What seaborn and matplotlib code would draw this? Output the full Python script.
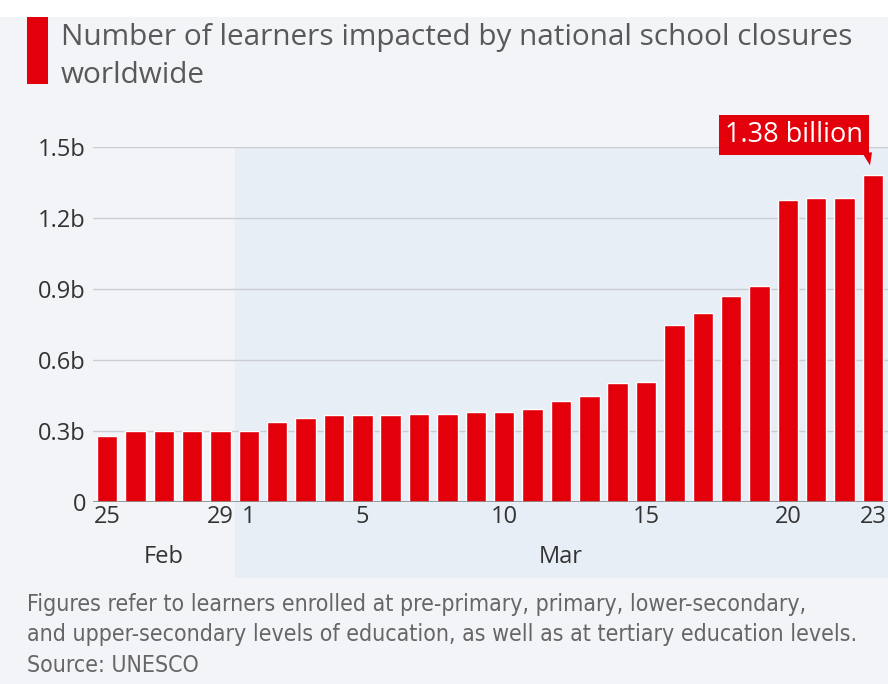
import matplotlib
matplotlib.use("Agg")
import matplotlib.pyplot as plt
from matplotlib import font_manager
from matplotlib.patches import Rectangle, Polygon
import seaborn as sns
import pandas as pd

# ---- data ----
days = [25, 26, 27, 28, 29] + list(range(1, 24))
months = ["Feb"] * 5 + ["Mar"] * 23
learners_b = [0.279, 0.300, 0.300, 0.300, 0.300,
              0.300, 0.338, 0.355, 0.366, 0.366, 0.366, 0.373, 0.373, 0.380,
              0.380, 0.394, 0.425, 0.447, 0.503, 0.507, 0.748, 0.800, 0.872,
              0.911, 1.277, 1.284, 1.284, 1.380]
tick_days = {"Feb": [25, 29], "Mar": [1, 5, 10, 15, 20, 23]}
y_ticks = [0, 0.3, 0.6, 0.9, 1.2, 1.5]
y_tick_labels = ["0", "0.3b", "0.6b", "0.9b", "1.2b", "1.5b"]
title_lines = ["Number of learners impacted by national school closures", "worldwide"]
footnote_lines = ["Figures refer to learners enrolled at pre-primary, primary, lower-secondary,",
                  "and upper-secondary levels of education, as well as at tertiary education levels."]
source = "Source: UNESCO"
callout = "1.38 billion"

df = pd.DataFrame({"idx": range(len(days)), "day": days, "month": months, "value": learners_b})

RED = "#e3000b"
BG = "#f3f4f8"
SHADE = "#e8eef6"

sns.set_theme(style="white")
MAIN = ["Open Sans", "DejaVu Sans"]
plt.rcParams["font.family"] = MAIN

# look for a condensed face for the footnote
cond_fp = None
cond_size = 12.3
prefs = [("Open Sans Condensed", 19.0), ("Liberation Sans Narrow", 17.8)]
for name, sz in prefs:
    for f in font_manager.fontManager.ttflist:
        if f.name == name and f.style == "normal" and f.weight in (400, "normal", "regular"):
            cond_fp = font_manager.FontProperties(fname=f.fname)
            cond_size = sz
            break
    if cond_fp is not None:
        break
if cond_fp is None:
    for f in font_manager.fontManager.ttflist:
        if "DejaVuSansCondensed.ttf" in f.fname:
            cond_fp = font_manager.FontProperties(fname=f.fname)
            cond_size = 16.6
            break
if cond_fp is None:
    cond_fp = font_manager.FontProperties(family=MAIN)
cond_fp.set_size(cond_size)

W, H = 888, 684
fig = plt.figure(figsize=(W / 100, H / 100), dpi=100)
fig.patch.set_facecolor(BG)

def fx(x):
    return x / W

def fy(y):
    return 1 - y / H

# white strip at top
fig.patches.append(Rectangle((0, fy(17)), 1, 17 / H, transform=fig.transFigure,
                             facecolor="white", edgecolor="none", zorder=-2))
# shaded region (March)
fig.patches.append(Rectangle((fx(235), fy(578)), fx(888) - fx(235), (578 - 147) / H,
                             transform=fig.transFigure, facecolor=SHADE,
                             edgecolor="none", zorder=-2))
# title marker
fig.patches.append(Rectangle((fx(27), fy(84)), fx(48) - fx(27), (84 - 17) / H,
                             transform=fig.transFigure, facecolor=RED,
                             edgecolor="none", zorder=1))
for line, base in zip(title_lines, [45, 83]):
    fig.text(fx(61), fy(base), line, ha="left", va="baseline", fontsize=21.4,
             color="#595959", family=MAIN)

ax_left, ax_right, ax_top, ax_bottom = 93, 888, 147, 502
ax = fig.add_axes([fx(ax_left), fy(ax_bottom), fx(ax_right) - fx(ax_left), (ax_bottom - ax_top) / H])
ax.set_facecolor("none")
ax.set_zorder(2)

step = (873 - 107) / 27.0
xl = (ax_left - 107) / step
xr = (ax_right - 107) / step

sns.barplot(data=df, x="idx", y="value", color=RED, width=0.72, saturation=1,
            ax=ax, native_scale=True, zorder=3)
ax.set_xlim(xl, xr)
ax.set_ylim(0, 1.5)
for sp in ax.spines.values():
    sp.set_visible(False)
ax.set_yticks(y_ticks)
ax.set_yticklabels(y_tick_labels, fontsize=17, color="#333333")
for y in y_ticks[1:]:
    ax.axhline(y, color="#cbcdd2", lw=1.0, zorder=1)
ax.axhline(0, color="#8a8a8a", lw=1.2, zorder=4)

tick_pos, tick_lab = [], []
for m in ["Feb", "Mar"]:
    for d in tick_days[m]:
        i = df[(df.month == m) & (df.day == d)].idx.iloc[0]
        tick_pos.append(i)
        tick_lab.append(str(d))
ax.set_xticks(tick_pos)
ax.set_xticklabels(tick_lab, fontsize=17, color="#333333")
ax.tick_params(axis="both", length=0)
ax.tick_params(axis="y", pad=5)
ax.tick_params(axis="x", pad=2)
ax.set_xlabel("")
ax.set_ylabel("")

# month labels centered over groups
for m in ["Feb", "Mar"]:
    sub = df[df.month == m].idx
    xc = (sub.min() + sub.max()) / 2
    ax.annotate(m, xy=(xc, 0), xycoords="data", xytext=(0, -55 * 0.72),
                textcoords="offset points", ha="center", va="center",
                fontsize=17, color="#333333", annotation_clip=False)

# callout for last bar
last = df.iloc[-1]
ax.annotate(callout, xy=(last.idx, last.value), xycoords="data",
            xytext=(-79 * 0.72, 40 * 0.72), textcoords="offset points",
            ha="center", va="center", fontsize=19.5, color="white",
            bbox=dict(boxstyle="square,pad=0.22", fc=RED, ec="none"),
            annotation_clip=False, zorder=6)
# pointer triangle
bx, by = ax.transData.transform((last.idx, last.value))
tri = Polygon([(bx - 11, by + 23), (bx - 1, by + 23), (bx - 3, by + 10)],
              closed=True, transform=None, facecolor=RED, edgecolor="none", zorder=6)
fig.patches.append(tri)

# footnote and source
for line, yc in zip(footnote_lines + [source], [605, 634, 665]):
    fig.text(fx(27), fy(yc), line, ha="left", va="center",
             color="#666666", fontproperties=cond_fp)

fig.savefig("out.png", dpi=100, facecolor=fig.get_facecolor())
